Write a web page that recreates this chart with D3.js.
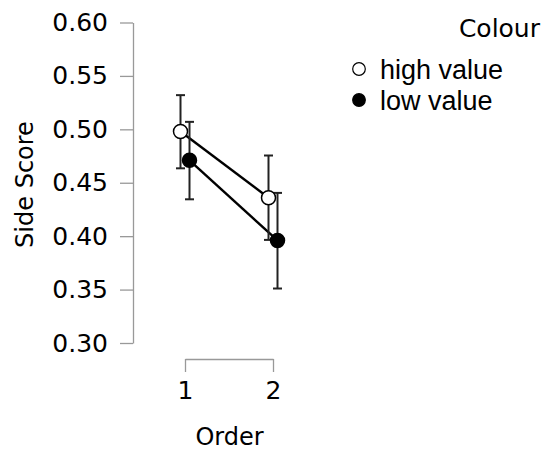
<!DOCTYPE html>
<html>
<head>
<meta charset="utf-8">
<script src="https://cdn.jsdelivr.net/npm/d3@7"></script>
<style>
  body { margin: 0; background: #fff; }
  .axis text { font-family: "DejaVu Sans", sans-serif; font-size: 25px; fill: #000; }
  .axis path, .axis line { stroke: #999; stroke-width: 1.3; }
</style>
</head>
<body>
<div id="chart"></div>
<script>
// data
let orders = ["1", "2"];
let groups = ["high value", "low value"];
let means = { "high value": [0.498, 0.436], "low value": [0.471, 0.396] };
let lower = { "high value": [0.4635, 0.3965], "low value": [0.4345, 0.351] };
let upper = { "high value": [0.532, 0.4755], "low value": [0.507, 0.4405] };
let y_ticks = [0.30, 0.35, 0.40, 0.45, 0.50, 0.55, 0.60];

let width = 544;
let height = 451;

let fills = { "high value": "#fff", "low value": "#000" };
let dodge = { "high value": -4.5, "low value": 4.5 };

let y = d3.scaleLinear().domain([0.30, 0.60]).range([343, 22.5]);
let x = d3.scalePoint().domain(orders).range([185, 273]);

let svg = d3.select("#chart")
	.append("svg")
	.attr("width", width)
	.attr("height", height);

// y axis
svg.append("g")
	.attr("class", "axis")
	.attr("transform", "translate(133,0)")
	.call(d3.axisLeft(y).tickValues(y_ticks).tickFormat(d3.format(".2f"))
		.tickSizeInner(13).tickSizeOuter(0).tickPadding(12));

// x axis (bracket)
svg.append("g")
	.attr("class", "axis")
	.attr("transform", "translate(0,359)")
	.call(d3.axisBottom(x).tickSizeInner(13).tickSizeOuter(0).tickPadding(9));

svg.append("text")
	.attr("transform", "translate(33,184.5) rotate(-90)")
	.attr("text-anchor", "middle")
	.style("font-family", "DejaVu Sans, sans-serif")
	.style("font-size", "24px")
	.attr("fill", "#000")
	.text("Side Score");

svg.append("text")
	.attr("x", 229.5)
	.attr("y", 445)
	.attr("text-anchor", "middle")
	.style("font-family", "DejaVu Sans, sans-serif")
	.style("font-size", "24px")
	.attr("fill", "#000")
	.text("Order");

let px = (g, i) => x(orders[i]) + dodge[g];

let line = d3.line()
	.x((d) => d[0])
	.y((d) => d[1]);

groups.forEach(function (g) {
	let pts = orders.map((o, i) => [px(g, i), y(means[g][i])]);
	svg.append("path")
		.attr("d", line(pts))
		.attr("fill", "none")
		.attr("stroke", "#000")
		.attr("stroke-width", 2.4);
});

// error bars
groups.forEach(function (g) {
	let eb = svg.append("g").attr("stroke", "#222").attr("stroke-width", 2);
	orders.forEach(function (o, i) {
		let cx = px(g, i);
		eb.append("line")
			.attr("x1", cx).attr("x2", cx)
			.attr("y1", y(lower[g][i])).attr("y2", y(upper[g][i]));
		[lower[g][i], upper[g][i]].forEach(function (v) {
			eb.append("line")
				.attr("x1", cx - 4.5).attr("x2", cx + 4.5)
				.attr("y1", y(v)).attr("y2", y(v));
		});
	});
});

groups.forEach(function (g) {
	svg.selectAll(".pt-" + g.replace(" ", "-"))
		.data(orders)
		.enter()
		.append("circle")
		.attr("cx", (d, i) => px(g, i))
		.attr("cy", (d, i) => y(means[g][i]))
		.attr("r", 7)
		.attr("fill", fills[g])
		.attr("stroke", "#000")
		.attr("stroke-width", 1.5);
});

// legend
svg.append("text")
	.attr("x", 540)
	.attr("y", 37)
	.attr("text-anchor", "end")
	.style("font-family", "DejaVu Sans, sans-serif")
	.style("font-size", "25px")
	.attr("fill", "#000")
	.text("Colour");

let legend = svg.selectAll(".legend")
	.data(groups)
	.enter()
	.append("g")
	.attr("transform", (d, i) => "translate(359," + (69 + i * 31) + ")");

legend.append("circle")
	.attr("r", 6.3)
	.attr("fill", (d) => fills[d])
	.attr("stroke", "#000")
	.attr("stroke-width", 1.2);

legend.append("text")
	.attr("x", 21)
	.attr("y", 9.5)
	.style("font-family", "Liberation Sans, Arial, sans-serif")
	.style("font-size", "27px")
	.attr("fill", "#000")
	.text((d) => d);
</script>
</body>
</html>
